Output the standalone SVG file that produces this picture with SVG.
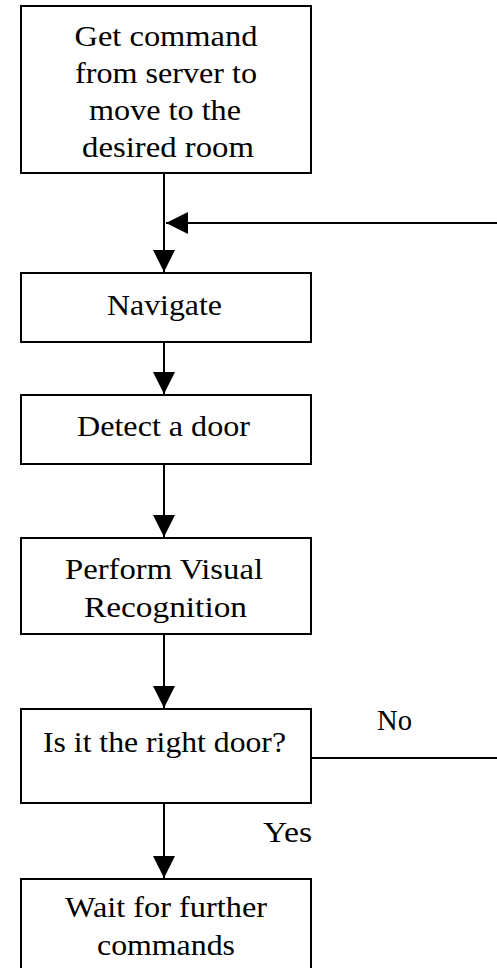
<svg xmlns="http://www.w3.org/2000/svg" width="497" height="968" viewBox="0 0 497 968">
<style>
.box{fill:#fff;stroke:#000;stroke-width:2}
.ln{fill:none;stroke:#000;stroke-width:2}
text{font-family:"Liberation Serif","Times New Roman",serif;font-size:30px;fill:#000}
.c{text-anchor:middle}
</style>
<defs>
<marker id="ah" markerUnits="userSpaceOnUse" markerWidth="22" markerHeight="22" viewBox="0 0 20 20" refX="20" refY="10" orient="auto">
<path d="M0,0 L20,10 L0,20 Z" fill="#000"/>
</marker>
</defs>
<rect width="497" height="968" fill="#fff"/>
<g id="connectors">
<line class="ln" x1="164" y1="173" x2="164" y2="272" marker-end="url(#ah)"/>
<line class="ln" x1="497" y1="223" x2="166" y2="223" marker-end="url(#ah)"/>
<line class="ln" x1="164" y1="342" x2="164" y2="394" marker-end="url(#ah)"/>
<line class="ln" x1="164" y1="464" x2="164" y2="537" marker-end="url(#ah)"/>
<line class="ln" x1="164" y1="634" x2="164" y2="708" marker-end="url(#ah)"/>
<line class="ln" x1="164" y1="803" x2="164" y2="878" marker-end="url(#ah)"/>
<line class="ln" x1="311" y1="758" x2="497" y2="758"/>
<text x="377" y="730" textLength="35" lengthAdjust="spacingAndGlyphs">No</text>
<text x="263" y="842" textLength="49" lengthAdjust="spacingAndGlyphs">Yes</text>
</g>
<g id="n1">
<rect class="box" x="21" y="6" width="290" height="167"/>
<text class="c" x="166" y="46" textLength="183" lengthAdjust="spacingAndGlyphs">Get command</text>
<text class="c" x="166" y="83" textLength="182" lengthAdjust="spacingAndGlyphs">from server to</text>
<text class="c" x="165" y="120" textLength="152" lengthAdjust="spacingAndGlyphs">move to the</text>
<text class="c" x="168" y="157" textLength="172" lengthAdjust="spacingAndGlyphs">desired room</text>
</g>
<g id="n2">
<rect class="box" x="21" y="273" width="290" height="69"/>
<text class="c" x="164.5" y="315" textLength="115" lengthAdjust="spacingAndGlyphs">Navigate</text>
</g>
<g id="n3">
<rect class="box" x="21" y="395" width="290" height="69"/>
<text class="c" x="163.5" y="436" textLength="173" lengthAdjust="spacingAndGlyphs">Detect a door</text>
</g>
<g id="n4">
<rect class="box" x="21" y="538" width="290" height="96"/>
<text class="c" x="164" y="579" textLength="198" lengthAdjust="spacingAndGlyphs">Perform Visual</text>
<text class="c" x="165.5" y="617" textLength="163" lengthAdjust="spacingAndGlyphs">Recognition</text>
</g>
<g id="n5">
<rect class="box" x="21" y="709" width="290" height="94"/>
<text class="c" x="164.5" y="752" textLength="243" lengthAdjust="spacingAndGlyphs">Is it the right door?</text>
</g>
<g id="n6">
<rect class="box" x="21" y="879" width="290" height="100"/>
<text class="c" x="166" y="917" textLength="202" lengthAdjust="spacingAndGlyphs">Wait for further</text>
<text class="c" x="166" y="955" textLength="138" lengthAdjust="spacingAndGlyphs">commands</text>
</g>
</svg>
